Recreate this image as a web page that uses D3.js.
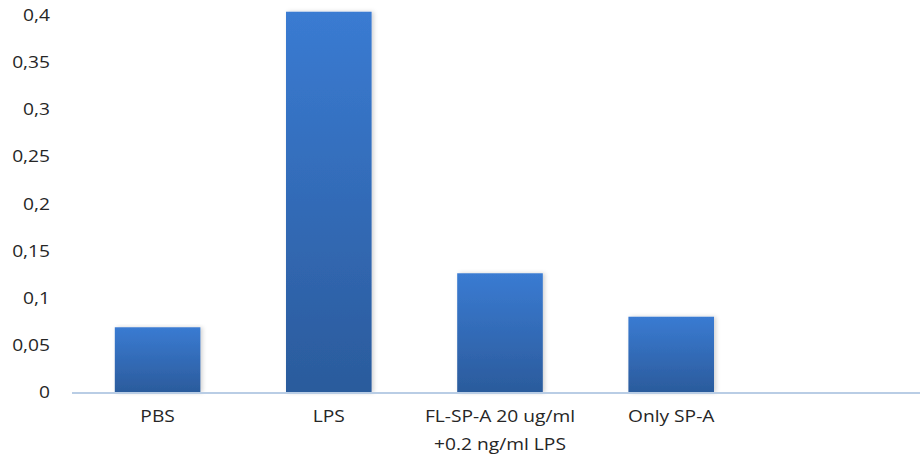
<!DOCTYPE html>
<html><head><meta charset="utf-8">
<script src="https://cdn.jsdelivr.net/npm/d3@7"></script>
<style>
html,body{margin:0;padding:0;background:#fff;}
svg text{font-family:"Open Sans",sans-serif;fill:#262626;}
</style></head>
<body><svg id="c" width="920" height="456"></svg>
<script>
const categories = ["PBS", "LPS", "FL-SP-A 20 ug/ml\n+0.2 ng/ml LPS", "Only SP-A", ""];
const values = [0.0692, 0.404, 0.1265, 0.0804, null];
const yTicks = [0, 0.05, 0.1, 0.15, 0.2, 0.25, 0.3, 0.35, 0.4];
const yTickLabels = ["0", "0,05", "0,1", "0,15", "0,2", "0,25", "0,3", "0,35", "0,4"];

const svg = d3.select("#c");
const x = d3.scaleBand().domain(d3.range(categories.length)).range([72, 928]).paddingInner(0.5).paddingOuter(0.25);
const y = d3.scaleLinear().domain([0, 0.4]).range([392.5, 15.5]);
const SX = 1.2, FS = 16;

const defs = svg.append("defs");
const grad = defs.append("linearGradient").attr("id","g").attr("x1",0).attr("y1",0).attr("x2",0).attr("y2",1);
grad.append("stop").attr("offset","0%").attr("stop-color","#3a7bd2");
grad.append("stop").attr("offset","100%").attr("stop-color","#2b5b9c");
const filt = defs.append("filter").attr("id","sh").attr("x","-10%").attr("y","-5%").attr("width","130%").attr("height","115%");
filt.append("feDropShadow").attr("dx",2).attr("dy",0).attr("stdDeviation",2).attr("flood-color","#000").attr("flood-opacity",0.18);

// y tick labels
svg.append("g").selectAll("text").data(yTicks).join("text")
  .attr("transform", d => `translate(50,${y(d)}) scale(${SX},1)`).attr("dy","0.35em")
  .attr("text-anchor","end").attr("font-size", FS)
  .text((d,i) => yTickLabels[i]);

// bars
const bd = values.map((v,i)=>({v,i})).filter(d=>d.v!=null);
svg.append("g").selectAll("rect").data(bd).join("rect")
  .attr("x", d => x(d.i)).attr("width", x.bandwidth())
  .attr("y", d => y(d.v)).attr("height", d => y(0) - y(d.v))
  .attr("fill","url(#g)").attr("filter","url(#sh)");

// x axis line
svg.append("line").attr("x1",72).attr("x2",920).attr("y1",y(0)+0.5).attr("y2",y(0)+0.5)
  .attr("stroke","#b9cde5").attr("stroke-width",2);

// x labels
const xl = svg.append("g").selectAll("text").data(categories.map((c,i)=>({c,i})).filter(d=>d.c)).join("text")
  .attr("transform", d => `translate(${x(d.i) + x.bandwidth()/2},416) scale(${SX},1)`)
  .attr("text-anchor","middle").attr("font-size", FS);
xl.each(function(d){
  const lines = d.c.split("\n");
  d3.select(this).selectAll("tspan").data(lines).join("tspan")
    .attr("x", 0).attr("dy", (l,j)=> j===0 ? "0.35em" : "28.6")
    .text(l=>l);
});
</script></body></html>
